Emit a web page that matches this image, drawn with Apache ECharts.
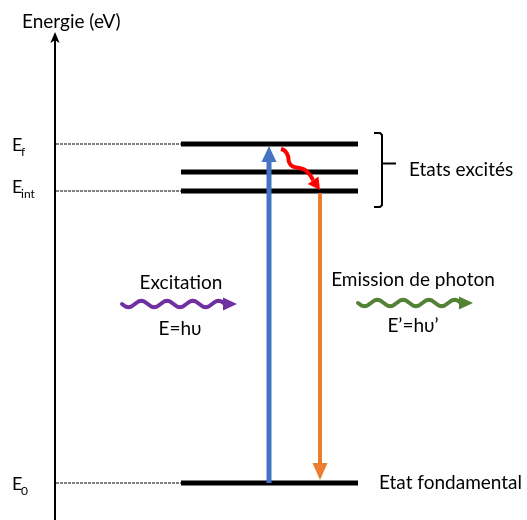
<!DOCTYPE html>
<html><head><meta charset="utf-8">
<script src="https://cdn.jsdelivr.net/npm/echarts@6/dist/echarts.min.js"></script>
<style>html,body{margin:0;padding:0;background:#fff}#c{width:527px;height:520px}</style>
</head><body><div id="c"></div>
<script>
// Energy levels (arbitrary units, E0 = 0)
const levelNames = ['E0', 'Eint', 'Emid', 'Ef'];
const levelEnergies = [0, 292, 311, 339];
const levelDashed = [true, true, false, true];
// Transitions: absorption (blue, up) and emission (orange, down)
const transitionNames = ['Excitation', 'Emission'];
const transitionFrom = [0, 290];
const transitionTo = [337, 3];
const transitionColors = ['#4472C4', '#ED7D31'];

const FONT = 'Lato, "Open Sans", sans-serif';
const chart = echarts.init(document.getElementById('c'), null, {renderer: 'canvas'});

const LX0 = 181, LX1 = 358, AX = 55;
const TX = [269, 320];

function arrowShape(p0, p1, headLen, headW) {
  const dx = p1[0] - p0[0], dy = p1[1] - p0[1];
  const L = Math.sqrt(dx * dx + dy * dy);
  const ux = dx / L, uy = dy / L;
  const bx = p1[0] - ux * headLen, by = p1[1] - uy * headLen;
  const nx = -uy, ny = ux;
  return {base: [bx, by], head: [[p1[0], p1[1]], [bx + nx * headW / 2, by + ny * headW / 2], [bx - nx * headW / 2, by - ny * headW / 2]]};
}

function waveArrow(api, x0, x1, y, color) {
  const p0 = api.coord([x0, y]), p1 = api.coord([x1, y]);
  const headLen = 14, headW = 13;
  const endX = p1[0] - headLen + 2;
  const pts = [];
  const periods = 4;
  const span = endX - p0[0];
  for (let i = 0; i <= 80; i++) {
    const t = i / 80;
    pts.push([p0[0] + span * t, p0[1] + 3.2 * Math.sin(t * periods * 2 * Math.PI)]);
  }
  return [
    {type: 'polyline', shape: {points: pts}, style: {stroke: color, lineWidth: 4, fill: null, lineCap: 'round'}},
    {type: 'polygon', shape: {points: [[p1[0], p1[1]], [p1[0] - headLen, p1[1] - headW / 2], [p1[0] - headLen, p1[1] + headW / 2]]}, style: {fill: color}}
  ];
}

const option = {
  animation: false,
  backgroundColor: '#fff',
  grid: {left: 55, right: 0, top: 38, bottom: 0},
  xAxis: {type: 'value', min: 55, max: 527, show: false},
  yAxis: {
    type: 'value', min: -37, max: 445, position: 'left',
    axisLine: {show: true, onZero: false, symbol: ['none', 'arrow'], symbolSize: [7, 11], symbolOffset: [0, 6], lineStyle: {color: '#000', width: 2}},
    axisTick: {show: false}, axisLabel: {show: false}, splitLine: {show: false}
  },
  series: [
    {
      type: 'custom', name: 'levels', data: levelEnergies,
      renderItem: function (params, api) {
        const v = api.value(0);
        const a = api.coord([LX0, v]), b = api.coord([LX1, v]), c = api.coord([AX, v]);
        const children = [];
        if (levelDashed[params.dataIndex]) {
          children.push({type: 'line', shape: {x1: c[0] + 1, y1: c[1], x2: a[0], y2: a[1]}, style: {stroke: '#000', lineWidth: 1, lineDash: [3, 1]}});
        }
        children.push({type: 'line', shape: {x1: a[0], y1: a[1], x2: b[0], y2: b[1]}, style: {stroke: '#000', lineWidth: 5}});
        return {type: 'group', children: children};
      }
    },
    {
      type: 'custom', name: 'transitions', data: transitionFrom.map((f, i) => [f, transitionTo[i]]),
      renderItem: function (params, api) {
        const i = params.dataIndex;
        const p0 = api.coord([TX[i], api.value(0)]), p1 = api.coord([TX[i], api.value(1)]);
        const s = arrowShape(p0, p1, i === 0 ? 16 : 17, 15);
        return {type: 'group', children: [
          {type: 'line', shape: {x1: p0[0], y1: p0[1], x2: s.base[0], y2: s.base[1]}, style: {stroke: transitionColors[i], lineWidth: i === 0 ? 5 : 4}},
          {type: 'polygon', shape: {points: s.head}, style: {fill: transitionColors[i]}}
        ]};
      }
    },
    {
      type: 'custom', name: 'relaxation', data: [[levelEnergies[3], levelEnergies[1]]],
      renderItem: function (params, api) {
        const top = api.value(0), bot = api.value(1);
        const P = (x, dy) => api.coord([x, top - dy]);
        const pts = [P(281, 5), P(285, 7), P(288, 12), P(289, 18), P(292, 22), P(299, 24), P(305, 26), P(310, 31), P(313, 36)];
        const tip = api.coord([320, bot + 1]);
        const s = arrowShape(pts[pts.length - 1], tip, 12, 13);
        pts.push(s.base);
        return {type: 'group', children: [
          {type: 'polyline', shape: {points: pts, smooth: 0.4}, style: {stroke: '#FF0000', lineWidth: 4, fill: null}},
          {type: 'polygon', shape: {points: s.head}, style: {fill: '#FF0000'}}
        ]};
      }
    },
    {
      type: 'custom', name: 'bracket', data: [[levelEnergies[3], levelEnergies[1]]],
      renderItem: function (params, api) {
        const top = api.value(0) + 11, bot = api.value(1) - 16;
        const mid = (api.value(0) + api.value(1)) / 2 + 0;
        const a = api.coord([374, top]), b = api.coord([382, top]), c = api.coord([382, bot]), d = api.coord([374, bot]);
        const m0 = api.coord([382, mid + 4]), m1 = api.coord([396, mid + 4]);
        return {type: 'group', children: [
          {type: 'polyline', shape: {points: [a, [b[0] - 2, b[1]], [b[0], b[1] + 2], [c[0], c[1] - 2], [c[0] - 2, c[1]], d]}, style: {stroke: '#000', lineWidth: 2, fill: null}},
          {type: 'line', shape: {x1: m0[0], y1: m0[1], x2: m1[0], y2: m1[1]}, style: {stroke: '#000', lineWidth: 2}}
        ]};
      }
    },
    {
      type: 'custom', name: 'photons', data: [[122, 237, 179], [358, 473, 180]],
      renderItem: function (params, api) {
        const colors = ['#7030A0', '#548235'];
        return {type: 'group', children: waveArrow(api, api.value(0), api.value(1), api.value(2), colors[params.dataIndex])};
      }
    }
  ],
  graphic: [
    {type: 'text', x: 22, y: 22, style: {text: 'Energie (eV)', font: '19px ' + FONT, fill: '#000', textVerticalAlign: 'middle'}},
    {type: 'text', x: 12, y: 145, style: {text: 'E', font: '18px ' + FONT, fill: '#000', textVerticalAlign: 'middle'}},
    {type: 'text', x: 21, y: 152, style: {text: 'f', font: '12px ' + FONT, fill: '#000', textVerticalAlign: 'middle'}},
    {type: 'text', x: 12, y: 187, style: {text: 'E', font: '18px ' + FONT, fill: '#000', textVerticalAlign: 'middle'}},
    {type: 'text', x: 21, y: 194, style: {text: 'int', font: '12px ' + FONT, fill: '#000', textVerticalAlign: 'middle'}},
    {type: 'text', x: 12, y: 484, style: {text: 'E', font: '18px ' + FONT, fill: '#000', textVerticalAlign: 'middle'}},
    {type: 'text', x: 21, y: 491, style: {text: '0', font: '12px ' + FONT, fill: '#000', textVerticalAlign: 'middle'}},
    {type: 'text', x: 409, y: 170, style: {text: 'Etats excités', font: '19px ' + FONT, fill: '#000', textVerticalAlign: 'middle'}},
    {type: 'text', x: 181, y: 283, style: {text: 'Excitation', font: '19px ' + FONT, fill: '#000', textAlign: 'center', textVerticalAlign: 'middle'}},
    {type: 'text', x: 180, y: 329, style: {text: 'E=h\u03C5', font: '19px ' + FONT, fill: '#000', textAlign: 'center', textVerticalAlign: 'middle'}},
    {type: 'text', x: 413, y: 280, style: {text: 'Emission de photon', font: '19px ' + FONT, fill: '#000', textAlign: 'center', textVerticalAlign: 'middle'}},
    {type: 'text', x: 413, y: 326, style: {text: 'E\u2019=h\u03C5\u2019', font: '19px ' + FONT, fill: '#000', textAlign: 'center', textVerticalAlign: 'middle'}},
    {type: 'text', x: 379, y: 483, style: {text: 'Etat fondamental', font: '19px ' + FONT, fill: '#000', textVerticalAlign: 'middle'}}
  ]
};
chart.setOption(option);
</script>
</body></html>
